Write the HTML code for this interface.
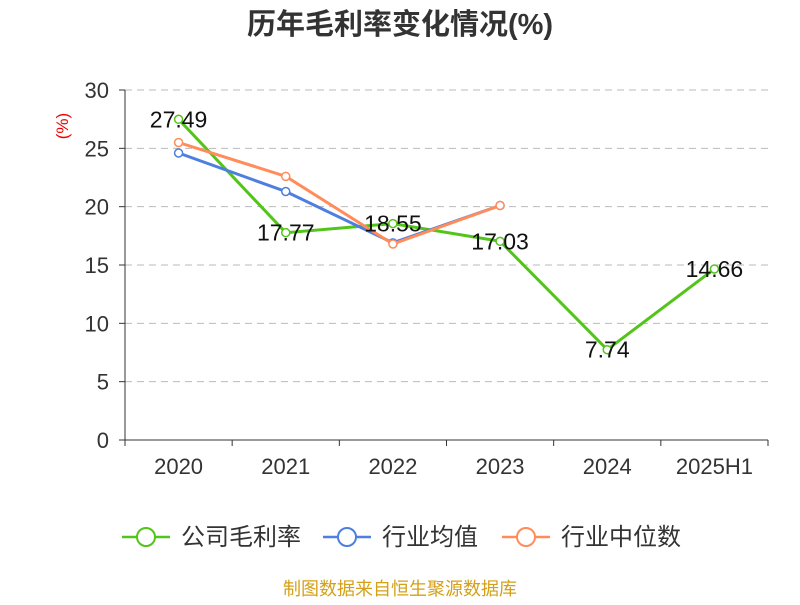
<!DOCTYPE html>
<html><head><meta charset="utf-8"><style>
body{margin:0;background:#fff;font-family:"Liberation Sans","Noto Sans CJK SC",sans-serif;}
</style></head><body>
<svg id="c" width="800" height="600" xmlns="http://www.w3.org/2000/svg" font-family="Liberation Sans, Noto Sans CJK SC, sans-serif">
<text x="400" y="34" text-anchor="middle" font-size="29" font-weight="bold" fill="#333">历年毛利率变化情况(%)</text>
<text x="68" y="126" text-anchor="middle" font-size="17" fill="#e00" transform="rotate(-90 68 126)">(%)</text>
<g id="grid"></g><g id="axes"></g><g id="series"></g>
<g>
<g><line x1="122" y1="537" x2="170" y2="537" stroke="#52c41a" stroke-width="2.5"/><circle cx="146" cy="537" r="9" fill="#fff" stroke="#52c41a" stroke-width="2"/><text x="181" y="545" font-size="24" fill="#333">公司毛利率</text></g>
<g><line x1="323" y1="537" x2="371" y2="537" stroke="#4e7fe0" stroke-width="2.5"/><circle cx="347" cy="537" r="9" fill="#fff" stroke="#4e7fe0" stroke-width="2"/><text x="382" y="545" font-size="24" fill="#333">行业均值</text></g>
<g><line x1="502" y1="537" x2="550" y2="537" stroke="#ff8c5a" stroke-width="2.5"/><circle cx="526" cy="537" r="9" fill="#fff" stroke="#ff8c5a" stroke-width="2"/><text x="561" y="545" font-size="24" fill="#333">行业中位数</text></g>
</g>
<text x="400" y="595" text-anchor="middle" font-size="18" fill="#d4a017">制图数据来自恒生聚源数据库</text>
</svg>
<script>
const categories=["2020","2021","2022","2023","2024","2025H1"];
const company=[27.49,17.77,18.55,17.03,7.74,14.66];
const industryAvg=[24.6,21.3,16.9,20.1];
const industryMedian=[25.5,22.6,16.8,20.1];
const yTicks=[0,5,10,15,20,25,30];
const NS="http://www.w3.org/2000/svg";
const L=125,R=768,T=90,B=440,yMax=30;
const bw=(R-L)/categories.length;
const xs=i=>L+bw*(i+0.5);
const ys=v=>B-(v/yMax)*(B-T);
function mk(t,a,p){const e=document.createElementNS(NS,t);for(const k in a)e.setAttribute(k,a[k]);p.appendChild(e);return e;}
const grid=document.getElementById('grid'),axes=document.getElementById('axes'),ser=document.getElementById('series');
yTicks.forEach(v=>{
  if(v>0){const g=mk('line',{x1:L,x2:R,y1:ys(v),y2:ys(v),stroke:'#bbb','stroke-dasharray':'7,5'},grid);
  }
  const tk=mk('line',{x1:L-6,x2:L,y1:ys(v),y2:ys(v),stroke:'#333'},axes);
  
  const t=mk('text',{x:L-16,y:ys(v)+8,'text-anchor':'end','font-size':22,fill:'#333'},axes);t.textContent=v;
  
});
const ya=mk('line',{x1:L,x2:L,y1:T,y2:B,stroke:'#333'},axes);

const xa=mk('line',{x1:L,x2:R,y1:B,y2:B,stroke:'#333'},axes);

for(let i=0;i<=categories.length;i++){const tk=mk('line',{x1:L+bw*i,x2:L+bw*i,y1:B,y2:B+6,stroke:'#333'},axes);
}
categories.forEach((c,i)=>{const t=mk('text',{x:xs(i),y:B+34,'text-anchor':'middle','font-size':22,fill:'#333'},axes);t.textContent=c;
});
function line(data,color,name){
  const g=mk('g',{},ser);
  const p=mk('polyline',{points:data.map((v,i)=>xs(i)+','+ys(v)).join(' '),fill:'none',stroke:color,'stroke-width':3},g);
  
  data.forEach((v,i)=>{const c=mk('circle',{cx:xs(i),cy:ys(v),r:4,fill:'#fff',stroke:color,'stroke-width':1.5},g);
    
  });
}
line(company,'#52c41a','company-series');
line(industryAvg,'#4e7fe0','industry-avg-series');
line(industryMedian,'#ff8c5a','industry-median-series');
company.forEach((v,i)=>{const t=mk('text',{x:xs(i),y:ys(v)+8,'text-anchor':'middle','font-size':23,fill:'#111'},ser);t.textContent=v.toFixed(2);
});
</script>
</body></html>
